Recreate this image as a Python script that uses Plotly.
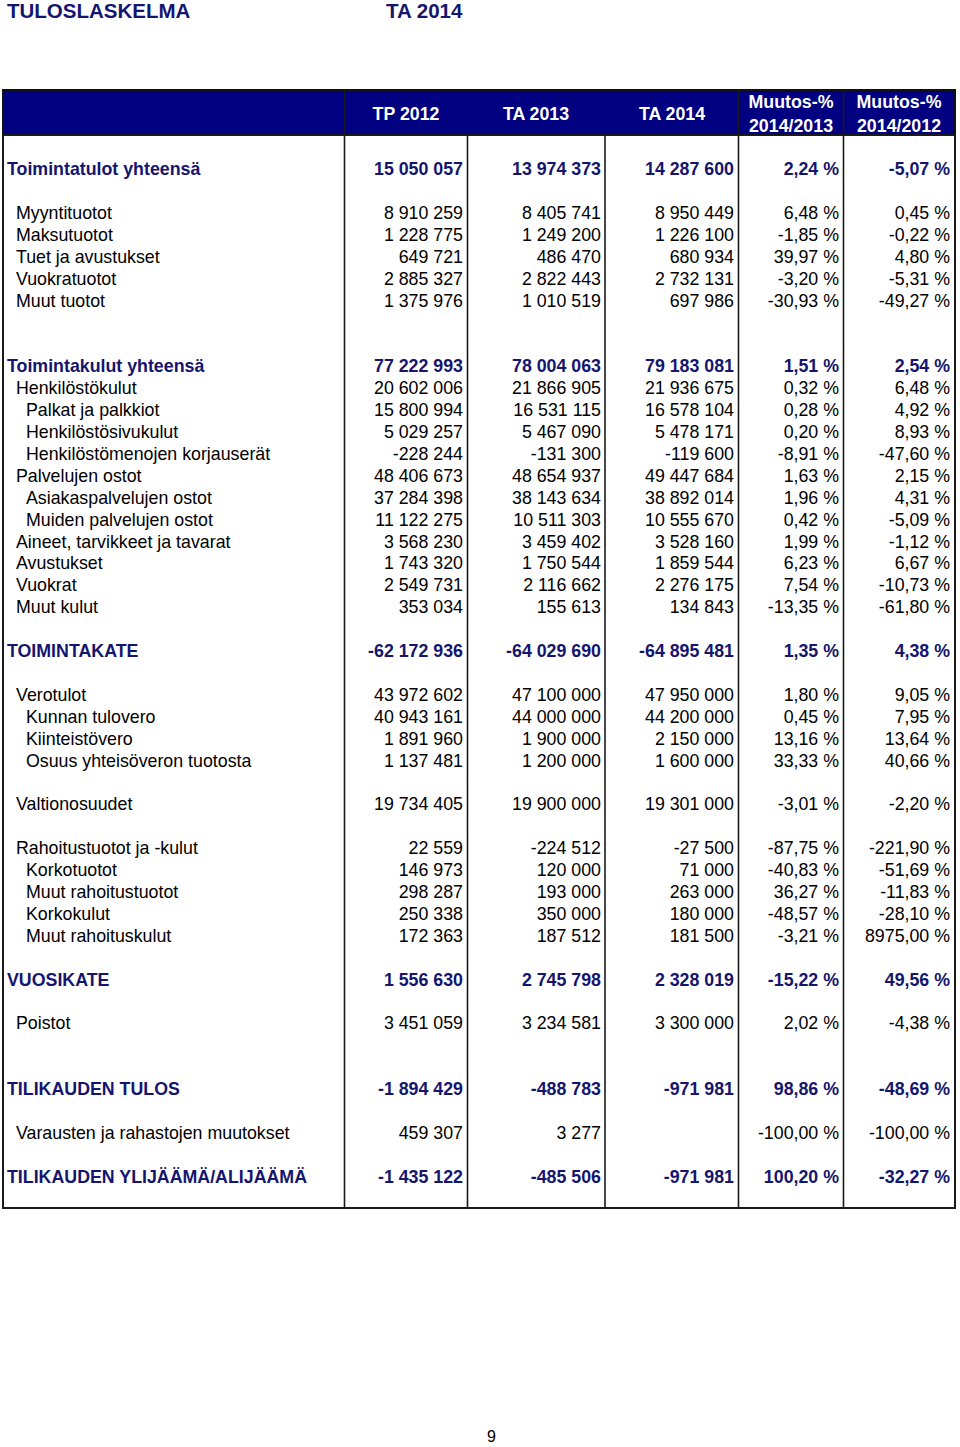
import plotly.graph_objects as go

# ---------------- data ----------------
labels = [
    "Toimintatulot yhteensä", "Myyntituotot", "Maksutuotot", "Tuet ja avustukset",
    "Vuokratuotot", "Muut tuotot",
    "Toimintakulut yhteensä", "Henkilöstökulut", "Palkat ja palkkiot",
    "Henkilöstösivukulut", "Henkilöstömenojen korjauserät", "Palvelujen ostot",
    "Asiakaspalvelujen ostot", "Muiden palvelujen ostot", "Aineet, tarvikkeet ja tavarat",
    "Avustukset", "Vuokrat", "Muut kulut",
    "TOIMINTAKATE", "Verotulot", "Kunnan tulovero", "Kiinteistövero",
    "Osuus yhteisöveron tuotosta", "Valtionosuudet",
    "Rahoitustuotot ja -kulut", "Korkotuotot", "Muut rahoitustuotot", "Korkokulut",
    "Muut rahoituskulut", "VUOSIKATE", "Poistot", "TILIKAUDEN TULOS",
    "Varausten ja rahastojen muutokset", "TILIKAUDEN YLIJÄÄMÄ/ALIJÄÄMÄ",
]
indent_level = [0, 1, 1, 1, 1, 1,
                0, 1, 2, 2, 2, 1, 2, 2, 1, 1, 1, 1,
                0, 1, 2, 2, 2, 1,
                1, 2, 2, 2, 2, 0, 1, 0, 1, 0]
is_total = [True, False, False, False, False, False,
            True, False, False, False, False, False, False, False, False, False, False, False,
            True, False, False, False, False, False,
            False, False, False, False, False, True, False, True, False, True]

tp_2012 = [15050057, 8910259, 1228775, 649721, 2885327, 1375976,
           77222993, 20602006, 15800994, 5029257, -228244, 48406673, 37284398, 11122275,
           3568230, 1743320, 2549731, 353034,
           -62172936, 43972602, 40943161, 1891960, 1137481, 19734405,
           22559, 146973, 298287, 250338, 172363, 1556630, 3451059, -1894429,
           459307, -1435122]
ta_2013 = [13974373, 8405741, 1249200, 486470, 2822443, 1010519,
           78004063, 21866905, 16531115, 5467090, -131300, 48654937, 38143634, 10511303,
           3459402, 1750544, 2116662, 155613,
           -64029690, 47100000, 44000000, 1900000, 1200000, 19900000,
           -224512, 120000, 193000, 350000, 187512, 2745798, 3234581, -488783,
           3277, -485506]
ta_2014 = [14287600, 8950449, 1226100, 680934, 2732131, 697986,
           79183081, 21936675, 16578104, 5478171, -119600, 49447684, 38892014, 10555670,
           3528160, 1859544, 2276175, 134843,
           -64895481, 47950000, 44200000, 2150000, 1600000, 19301000,
           -27500, 71000, 263000, 180000, 181500, 2328019, 3300000, -971981,
           None, -971981]
change_2014_2013 = [2.24, 6.48, -1.85, 39.97, -3.20, -30.93,
                    1.51, 0.32, 0.28, 0.20, -8.91, 1.63, 1.96, 0.42, 1.99, 6.23, 7.54, -13.35,
                    1.35, 1.80, 0.45, 13.16, 33.33, -3.01,
                    -87.75, -40.83, 36.27, -48.57, -3.21, -15.22, 2.02, 98.86,
                    -100.00, 100.20]
change_2014_2012 = [-5.07, 0.45, -0.22, 4.80, -5.31, -49.27,
                    2.54, 6.48, 4.92, 8.93, -47.60, 2.15, 4.31, -5.09, -1.12, 6.67, -10.73, -61.80,
                    4.38, 9.05, 7.95, 13.64, 40.66, -2.20,
                    -221.90, -51.69, -11.83, -28.10, 8975.00, 49.56, -4.38, -48.69,
                    -100.00, -32.27]
column_headers = ["TP 2012", "TA 2013", "TA 2014", "Muutos-%<br>2014/2013", "Muutos-%<br>2014/2012"]
page_title = "TULOSLASKELMA"
page_subtitle = "TA 2014"
page_number = "9"

# ---------------- layout settings ----------------
blank_rows_before = [1, 1, 0, 0, 0, 0,
                     2, 0, 0, 0, 0, 0, 0, 0, 0, 0, 0, 0,
                     1, 1, 0, 0, 0, 1,
                     1, 0, 0, 0, 0, 1, 1, 2, 1, 1]
W, H = 960, 1447
TABLE_LEFT, TABLE_RIGHT = 3, 955
HEADER_TOP, HEADER_BOTTOM = 90, 135
ROW_H = 21.9
TOTAL_SLOTS = 49
TEXT_DY = 3
col_lines = [344.5, 467.5, 605, 738.5, 843.5]
num_right = [463, 601, 734, 839, 950]
head_center = [406, 536, 672, 791, 899]
indent_x = [7, 16, 26]
FONT = "Liberation Sans, Arial, sans-serif"
FS = 17.8
NAVY = "#000080"
TXT_NAVY = "#15156e"


def fmt_int(v):
    if v is None:
        return ""
    s = f"{abs(v):,}".replace(",", " ")
    return ("-" if v < 0 else "") + s


def fmt_pct(v):
    if v is None:
        return ""
    return f"{v:.2f}".replace(".", ",") + " %"


def wrap(s, b):
    return f"<b>{s}</b>" if (b and s) else s


# row slot positions
slots = []
s = 0
for gap in blank_rows_before:
    s += gap
    slots.append(s)
    s += 1
row_y = [HEADER_BOTTOM + (k + 0.5) * ROW_H + TEXT_DY for k in slots]
colors = [TXT_NAVY if b else "black" for b in is_total]

fig = go.Figure()

# labels
fig.add_trace(go.Scatter(
    x=[indent_x[l] for l in indent_level], y=row_y, mode="text",
    text=[wrap(t, b) for t, b in zip(labels, is_total)],
    textposition="middle right",
    textfont=dict(family=FONT, size=FS, color=colors),
    hoverinfo="skip", showlegend=False, cliponaxis=False,
))

series = [
    [fmt_int(v) for v in tp_2012],
    [fmt_int(v) for v in ta_2013],
    [fmt_int(v) for v in ta_2014],
    [fmt_pct(v) for v in change_2014_2013],
    [fmt_pct(v) for v in change_2014_2012],
]
for ci, col in enumerate(series):
    fig.add_trace(go.Scatter(
        x=[num_right[ci]] * len(col), y=row_y, mode="text",
        text=[wrap(t, b) for t, b in zip(col, is_total)],
        textposition="middle left",
        textfont=dict(family=FONT, size=FS, color=colors),
        hoverinfo="skip", showlegend=False, cliponaxis=False,
    ))

# header texts
fig.add_trace(go.Scatter(
    x=head_center, y=[(HEADER_TOP + HEADER_BOTTOM) / 2 + TEXT_DY] * len(column_headers),
    mode="text",
    text=[f"<b>{h}</b>" for h in column_headers],
    textposition="middle center",
    textfont=dict(family=FONT, size=FS, color="white"),
    hoverinfo="skip", showlegend=False, cliponaxis=False,
))

shapes = []
# header fill
shapes.append(dict(type="rect", xref="x", yref="y", x0=TABLE_LEFT, x1=TABLE_RIGHT,
                   y0=HEADER_TOP, y1=HEADER_BOTTOM, fillcolor=NAVY,
                   line=dict(color="#111", width=2), layer="below"))
table_bottom = HEADER_BOTTOM + TOTAL_SLOTS * ROW_H
# body border
shapes.append(dict(type="rect", xref="x", yref="y", x0=TABLE_LEFT, x1=TABLE_RIGHT,
                   y0=HEADER_BOTTOM, y1=table_bottom,
                   line=dict(color="#1a1a1a", width=2), layer="below"))
# column separators
for i, cx in enumerate(col_lines):
    top = HEADER_TOP if i in (0, 3, 4) else HEADER_BOTTOM
    shapes.append(dict(type="line", xref="x", yref="y", x0=cx, x1=cx, y0=top, y1=table_bottom,
                       line=dict(color="#1a1a1a", width=1.6), layer="below"))

annotations = [
    dict(x=5, y=10, xref="x", yref="y", text=f"<b>{page_title}</b>", showarrow=False,
         xanchor="left", yanchor="middle", font=dict(family=FONT, size=20.5, color=TXT_NAVY)),
    dict(x=384, y=10, xref="x", yref="y", text=f"<b>{page_subtitle}</b>", showarrow=False,
         xanchor="left", yanchor="middle", font=dict(family=FONT, size=20.5, color=TXT_NAVY)),
    dict(x=491, y=1436, xref="x", yref="y", text=page_number, showarrow=False,
         xanchor="center", yanchor="middle", font=dict(family=FONT, size=16, color="black")),
]

fig.update_layout(
    width=W, height=H, margin=dict(l=0, r=0, t=0, b=0, pad=0),
    paper_bgcolor="white", plot_bgcolor="white",
    xaxis=dict(range=[0, W], visible=False, fixedrange=True),
    yaxis=dict(range=[H, 0], visible=False, fixedrange=True),
    shapes=shapes, annotations=annotations, showlegend=False,
)

fig.write_html("out.html", config={"displayModeBar": False, "staticPlot": True},
               post_script="document.body.style.margin='0';document.body.style.overflow='hidden';")
